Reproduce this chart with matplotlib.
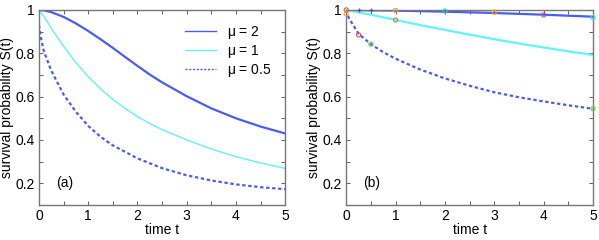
import matplotlib
matplotlib.use('Agg')
import matplotlib.pyplot as plt
from matplotlib.ticker import MultipleLocator

plt.rcParams['font.family'] = ['Liberation Sans', 'DejaVu Sans']
plt.rcParams['font.size'] = 10

# panel (a)
t_a = [0, 0.1, 0.25, 0.5, 0.75, 1, 1.25, 1.5, 1.75, 2, 2.25, 2.5, 3, 3.5, 4, 4.5, 5]
s_a_mu2 = [1.0, 0.998, 0.99, 0.968, 0.938, 0.903, 0.865, 0.825, 0.783, 0.742,
           0.702, 0.666, 0.602, 0.546, 0.5, 0.462, 0.43]
s_a_mu1 = [1.0, 0.97, 0.915, 0.832, 0.757, 0.692, 0.636, 0.587, 0.545, 0.508,
           0.476, 0.448, 0.4, 0.358, 0.323, 0.294, 0.269]
t_a_half = [0, 0.05, 0.1, 0.25, 0.5, 0.75, 1, 1.25, 1.5, 2, 2.5, 3, 3.5, 4, 4.5, 5]
s_a_mu05 = [0.93, 0.86, 0.81, 0.72, 0.61, 0.53, 0.465, 0.415, 0.375, 0.315,
            0.27, 0.237, 0.213, 0.195, 0.182, 0.173]

# panel (b)
t_b2 = [0, 1, 2, 3, 4, 5]
s_b_mu2 = [1.0, 0.997, 0.992, 0.986, 0.978, 0.969]
t_b1 = [0, 0.5, 1, 1.5, 2, 2.5, 3, 3.5, 4, 4.5, 5]
s_b_mu1 = [1.0, 0.978, 0.954, 0.93, 0.908, 0.886, 0.865, 0.845, 0.827, 0.809, 0.792]
t_b05 = [0, 0.05, 0.1, 0.25, 0.5, 0.75, 1, 1.5, 2, 2.5, 3, 3.5, 4, 4.5, 5]
s_b_mu05 = [1.0, 0.965, 0.945, 0.89, 0.842, 0.805, 0.775, 0.725, 0.684, 0.65,
            0.62, 0.597, 0.578, 0.56, 0.544]

# simulation points in (b)
pt_t = [0, 0, 0.25, 0.5, 1, 1, 2, 3, 4, 5, 5]
pt_s = [1.0, 0.982, 0.885, 0.842, 0.954, 0.998, 0.995, 0.99, 0.977, 0.965, 0.544]
pt_c = ['#e05050', '#f0a030', '#e05050', '#70d040', '#f07040', '#f0a030',
        '#40c0c0', '#f0a030', '#e05050', '#40e0e0', '#70d040']
plus_t = [0.25, 0.5]
plus_s = [0.999, 0.999]

blue = '#4a5cf2'
cyan = '#60f5f5'

fig = plt.figure(figsize=(5.99, 2.4), dpi=100)
ax1 = fig.add_axes([0.065, 0.146, 0.411, 0.8125])
ax2 = fig.add_axes([0.578, 0.146, 0.412, 0.8125])

ax1.plot(t_a, s_a_mu2, color=blue, lw=1.6, label=r'$\mathregular{\mu}$ = 2')
ax1.plot(t_a, s_a_mu1, color=cyan, lw=1.0, label=r'$\mathregular{\mu}$ = 1')
ax1.plot(t_a_half, s_a_mu05, color=blue, lw=1.6, ls=(0, (1.5, 1.2)),
         label=r'$\mathregular{\mu}$ = 0.5')
leg = ax1.legend(loc='upper right', frameon=False, fontsize=10,
                 handlelength=2.2, labelspacing=0.15, borderaxespad=0.6)
for h in leg.get_lines():
    h.set_linewidth(1.0)
ax1.text(0.07, 0.09, '(a)', transform=ax1.transAxes, fontsize=10)

ax2.plot(t_b2, s_b_mu2, color=blue, lw=1.6)
ax2.plot(t_b1, s_b_mu1, color=cyan, lw=1.6)
ax2.plot(t_b05, s_b_mu05, color=blue, lw=1.6, ls=(0, (1.5, 1.2)))
ax2.scatter(pt_t, pt_s, s=9, facecolors='none', edgecolors=pt_c, lw=0.8,
            zorder=3, clip_on=False)
ax2.scatter(plus_t, plus_s, s=12, marker='+', color='#6040c0', lw=0.9,
            zorder=3, clip_on=False)
ax2.text(0.07, 0.09, '(b)', transform=ax2.transAxes, fontsize=10)

for ax in (ax1, ax2):
    ax.set_xlim(0, 5)
    ax.set_ylim(0.1, 1)
    ax.xaxis.set_major_locator(MultipleLocator(1))
    ax.xaxis.set_minor_locator(MultipleLocator(0.5))
    ax.yaxis.set_major_locator(MultipleLocator(0.2))
    ax.yaxis.set_minor_locator(MultipleLocator(0.1))
    ax.set_yticks([0.2, 0.4, 0.6, 0.8, 1.0])
    ax.set_yticklabels(['0.2', '0.4', '0.6', '0.8', '1'])
    ax.tick_params(which='both', direction='in', top=True, right=True,
                   length=3, width=0.6, color='#444444', labelsize=10, pad=3)
    ax.set_xlabel('time t', labelpad=0)
    ax.set_ylabel('survival probability S(t)', labelpad=1)
    for sp in ax.spines.values():
        sp.set_color('#777777')
        sp.set_linewidth(1.0)

fig.savefig('out.png', dpi=100)
